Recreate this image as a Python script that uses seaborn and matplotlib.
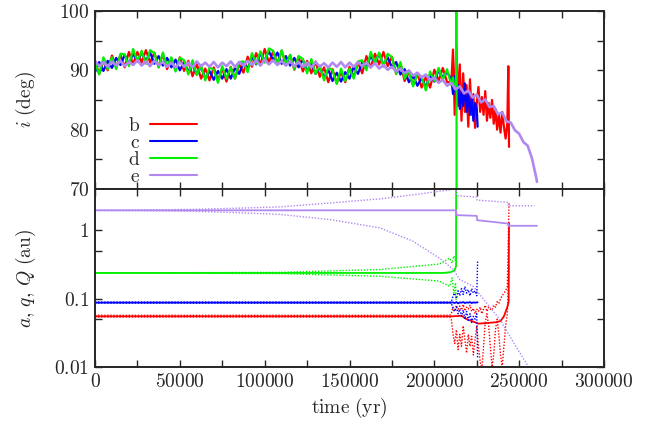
import numpy as np
import pandas as pd
import matplotlib
matplotlib.use('Agg')
import matplotlib.pyplot as plt
import seaborn as sns
from matplotlib.ticker import FixedLocator, FuncFormatter, NullFormatter

# ---------------- inclination panel ----------------
t_early = np.arange(0, 210000, 2500)          # 0 ... 207500 yr

inc_b = [91.5, 89.4, 91.6, 90.0, 92.5, 90.5, 92.6, 90.5, 93.1, 91.0,
         93.1, 91.3, 93.4, 91.3, 93.0, 90.5, 92.7, 90.2, 92.0, 90.0,
         92.2, 89.9, 91.6, 89.0, 91.1, 88.6, 90.3, 88.3, 90.5, 88.3,
         90.3, 88.1, 90.6, 88.6, 91.0, 89.6, 92.3, 90.6, 92.9, 90.9,
         93.6, 91.3, 93.2, 91.2, 93.3, 90.9, 92.6, 90.1, 92.3, 89.8,
         91.6, 89.5, 91.5, 88.9, 90.5, 88.0, 90.2, 87.8, 89.7, 88.0,
         90.6, 88.9, 91.3, 89.5, 92.4, 90.5, 92.8, 91.0, 93.1, 90.7,
         92.3, 89.4, 91.1, 88.2, 89.7, 87.5, 89.5, 87.1, 88.9, 87.1,
         90.1, 88.2, 90.4, 88.0]
inc_c = [89.7, 91.4, 89.9, 91.6, 90.4, 92.1, 90.9, 92.6, 91.1, 92.8,
         91.5, 93.0, 91.6, 93.0, 91.1, 92.4, 90.8, 92.1, 90.5, 91.8,
         90.0, 91.4, 89.8, 91.0, 89.3, 90.6, 88.6, 89.9, 88.4, 89.9,
         88.6, 90.2, 88.6, 90.4, 89.4, 91.3, 90.3, 92.3, 91.0, 92.8,
         91.7, 93.2, 91.7, 93.0, 91.1, 92.4, 90.8, 92.1, 90.5, 91.8,
         89.9, 91.1, 89.4, 90.5, 88.8, 90.1, 88.2, 89.6, 88.1, 89.7,
         88.6, 90.6, 89.4, 91.4, 90.5, 92.4, 91.3, 92.8, 90.9, 92.2,
         90.5, 91.4, 89.3, 90.2, 88.0, 89.1, 87.4, 88.7, 87.2, 89.2,
         88.1, 90.0, 88.8, 89.7]
inc_d = [91.3, 89.3, 92.2, 90.2, 92.2, 90.2, 92.8, 92.7, 90.7, 93.6,
         91.5, 93.3, 91.1, 93.4, 92.9, 90.5, 93.0, 90.6, 92.2, 89.8,
         92.1, 91.7, 89.3, 91.7, 89.2, 90.8, 88.3, 90.5, 90.1, 87.9,
         90.7, 88.6, 90.5, 88.6, 91.4, 91.5, 89.7, 92.9, 91.1, 93.2,
         91.3, 93.7, 93.3, 90.9, 93.4, 91.0, 92.6, 90.2, 92.4, 91.9,
         89.5, 91.9, 89.4, 90.8, 88.3, 90.5, 90.0, 87.7, 90.3, 88.2,
         90.3, 88.6, 91.5, 91.7, 90.0, 93.1, 91.2, 93.0, 90.6, 92.8,
         92.2, 89.4, 91.4, 88.6, 89.9, 87.3, 89.4, 88.9, 86.6, 89.8,
         88.2, 90.4, 88.4, 90.2]

# chaotic phase after ~210 kyr
t_late_b = list(range(210000, 244000, 1000)) + [243600, 244000]
inc_b_late = [88.0, 93.5, 82.5, 94.3, 84.0, 91.0, 81.5, 89.5, 83.0, 87.5,
              80.5, 88.5, 82.5, 86.0, 80.3, 84.5, 87.2, 83.0, 85.5, 82.5,
              86.5, 81.5, 84.5, 82.0, 85.0, 81.0, 83.5, 80.0, 82.5, 79.5,
              83.0, 80.5, 78.5, 81.0, 90.7, 77.1]
t_late_c = list(range(210000, 226000, 1000)) + [225500]
inc_c_late = [88.5, 86.0, 89.0, 84.5, 87.5, 83.5, 86.5, 84.0, 87.8, 83.0,
              86.0, 82.5, 85.5, 81.5, 84.5, 83.5, 80.5]
t_late_d = [210000, 211000, 212000, 212800, 213000, 213200]
inc_d_late = [87.5, 88.8, 86.8, 87.5, 250.0, -100.0]

t_e = list(range(0, 262500, 2500)) + [260500]
inc_e = [91.6, 90.7, 91.4, 90.6, 91.5, 90.8, 91.6, 90.7, 91.4, 90.9,
         91.7, 90.8, 91.5, 90.7, 91.6, 90.9, 91.4, 90.6, 91.3, 90.5,
         91.4, 90.6, 91.3, 90.5, 91.5, 90.7, 91.3, 90.6, 91.4, 90.5,
         91.3, 90.7, 91.5, 90.6, 91.4, 90.8, 91.6, 90.9, 91.7, 90.8,
         91.8, 91.0, 91.7, 90.9, 91.6, 90.8, 91.5, 90.7, 91.4, 90.6,
         91.3, 90.5, 91.4, 90.6, 91.2, 90.5, 91.3, 90.6, 91.4, 90.5,
         91.3, 90.6, 91.4, 90.7, 91.3, 90.5, 91.2, 90.3, 90.9, 90.1,
         90.6, 89.8, 90.3, 89.5, 90.0, 89.1, 89.6, 88.8, 89.3, 88.3,
         88.8, 87.9, 88.4, 87.4, 87.9, 86.8, 87.3, 86.1, 86.6, 85.4,
         85.9, 84.6, 85.1, 83.8, 84.0, 82.6, 82.9, 81.4, 81.2, 79.9,
         79.3, 77.9, 77.3, 75.2, 72.0, 71.2]

# ---------------- orbit panel (a solid, q / Q dotted) ----------------
t_b_a = [0, 210000, 216000, 219000, 223000, 226000, 231000, 236000,
         239000, 241000, 243000, 243800, 244000]
a_b = [0.055, 0.055, 0.056, 0.050, 0.046, 0.043, 0.044, 0.045,
       0.047, 0.055, 0.075, 0.090, 1.27]
t_b_qQ = [0] + list(range(209000, 245000, 1000))
q_b = [0.054, 0.054,
       0.05, 0.03, 0.022, 0.035, 0.018, 0.03, 0.02, 0.04, 0.025, 0.016,
       0.03, 0.02, 0.028, 0.015, 0.025, 0.04, 0.02, 0.012, 0.009, 0.02,
       0.045, 0.06, 0.04, 0.02, 0.01, 0.015, 0.035, 0.05, 0.03, 0.015,
       0.01, 0.02, 0.04, 0.06, 0.3]
Q_b = [0.057, 0.057,
       0.06, 0.075, 0.065, 0.08, 0.07, 0.078, 0.068, 0.082, 0.066, 0.075,
       0.07, 0.08, 0.065, 0.072, 0.06, 0.07, 0.065, 0.075, 0.06, 0.07,
       0.08, 0.065, 0.075, 0.07, 0.068, 0.08, 0.075, 0.09, 0.085, 0.1,
       0.11, 0.12, 0.13, 0.15, 2.5]

t_c = [0, 210000] + list(range(211000, 226000, 1000)) + [225500]
a_c = [0.0873, 0.0873, 0.088, 0.086, 0.089, 0.085, 0.088, 0.087, 0.089,
       0.086, 0.088, 0.087, 0.089, 0.086, 0.088, 0.087, 0.088, 0.088]
q_c = [0.086, 0.086, 0.07, 0.065, 0.075, 0.06, 0.07, 0.055, 0.068, 0.05,
       0.065, 0.048, 0.06, 0.045, 0.055, 0.05, 0.06, 0.0133]
Q_c = [0.089, 0.089, 0.11, 0.12, 0.10, 0.13, 0.11, 0.14, 0.115, 0.15,
       0.12, 0.135, 0.11, 0.14, 0.12, 0.13, 0.11, 0.35]

t_d_a = [0, 205000, 207500, 210000, 212000, 212800, 213000]
a_d = [0.237, 0.237, 0.240, 0.245, 0.26, 0.30, 100.0]
t_d_qQ = [0, 109000, 168000, 203000, 209000, 210500, 211500, 212500,
          212800, 213000]
q_d = [0.237, 0.232, 0.212, 0.180, 0.151, 0.20, 0.12, 0.17, 0.094, 0.094]
Q_d = [0.237, 0.242, 0.266, 0.320, 0.390, 0.33, 0.42, 0.36, 0.50, 100.0]

t_e_a = [0, 212800, 213000, 225000, 225200, 243400, 243600, 260500]
a_e = [1.95, 1.95, 1.66, 1.62, 1.40, 1.25, 1.16, 1.16]
t_e_q = [0, 30000, 60000, 85000, 109000, 138500, 168000, 187400, 203000,
         211000, 215000, 223000, 239000, 247000, 255000]
q_e = [1.95, 1.93, 1.88, 1.80, 1.70, 1.43, 1.08, 0.69, 0.39,
       0.27, 0.19, 0.15, 0.048, 0.022, 0.0105]
t_e_Q = [0, 30000, 60000, 85000, 109000, 138500, 168000, 190000, 212800,
         213000, 225000, 225200, 243400, 243600, 259000]
Q_e = [1.95, 1.97, 2.02, 2.10, 2.19, 2.50, 2.87, 3.35, 4.0,
       3.2, 3.05, 2.75, 2.55, 2.27, 2.27]

planets = ['b', 'c', 'd', 'e']
colors = {'b': '#ff0000', 'c': '#0000ff', 'd': '#00f000', 'e': '#b088f0'}

sns.set_style('ticks')
plt.rcParams['mathtext.fontset'] = 'cm'
plt.rcParams['font.family'] = ['DejaVu Serif']
plt.rcParams['axes.linewidth'] = 1.4

fig = plt.figure(figsize=(6.61, 4.23), dpi=100)
ax1 = fig.add_axes([0.1437, 0.5532, 0.7701, 0.4208])
ax2 = fig.add_axes([0.1437, 0.1324, 0.7701, 0.4208])


def line(ax, x, y, c, lw=1.3, ls='-', label=None):
    sns.lineplot(x=x, y=y, ax=ax, color=c, lw=lw, linestyle=ls,
                 estimator=None, sort=False, label=label, legend=False)


# top panel
early = {'b': inc_b, 'c': inc_c, 'd': inc_d}
late = {'b': (t_late_b, inc_b_late), 'c': (t_late_c, inc_c_late),
        'd': (t_late_d, inc_d_late)}
for p in ['b', 'c', 'd']:
    tt = list(t_early) + late[p][0]
    vv = early[p] + late[p][1]
    line(ax1, tt, vv, colors[p], lw=1.6, label=r'$\mathrm{%s}$' % p)
line(ax1, t_e, inc_e, colors['e'], lw=1.9, label=r'$\mathrm{e}$')

# bottom panel
dots = (0, (1.0, 1.2))
orbit = {
    'b': ((t_b_a, a_b), (t_b_qQ, q_b), (t_b_qQ, Q_b)),
    'c': ((t_c, a_c), (t_c, q_c), (t_c, Q_c)),
    'd': ((t_d_a, a_d), (t_d_qQ, q_d), (t_d_qQ, Q_d)),
    'e': ((t_e_a, a_e), (t_e_q, q_e), (t_e_Q, Q_e)),
}
for p in planets:
    (ta, va), (tq, vq), (tQ, vQ) = orbit[p]
    line(ax2, tq, vq, colors[p], lw=1.0, ls=dots)
    line(ax2, tQ, vQ, colors[p], lw=1.0, ls=dots)
    line(ax2, ta, va, colors[p], lw=1.3)

ax2.set_yscale('log')
ax1.set_xlim(0, 300000)
ax2.set_xlim(0, 300000)
ax1.set_ylim(70, 100)
ax2.set_ylim(0.01, 4.0)

mfmt = FuncFormatter(lambda v, pos: r'$%d$' % v)
for ax in (ax1, ax2):
    ax.xaxis.set_major_locator(FixedLocator(np.arange(0, 300001, 50000)))
    ax.xaxis.set_minor_locator(FixedLocator(np.arange(25000, 300000, 50000)))
    ax.tick_params(which='both', direction='in', top=True, right=True,
                   length=5, width=1.0, labelsize=14, pad=4)
    ax.set_xlabel('')
    ax.set_ylabel('')

ax1.xaxis.set_major_formatter(NullFormatter())
ax2.xaxis.set_major_formatter(mfmt)
ax1.yaxis.set_major_locator(FixedLocator([70, 80, 90, 100]))
ax1.yaxis.set_minor_locator(FixedLocator([75, 85, 95]))
ax1.yaxis.set_major_formatter(mfmt)
ax2.yaxis.set_major_locator(FixedLocator([0.01, 0.1, 1]))
ax2.yaxis.set_minor_locator(FixedLocator([0.05, 0.5]))
ax2.yaxis.set_minor_formatter(NullFormatter())
ax2.yaxis.set_major_formatter(FuncFormatter(
    lambda v, pos: {0.01: r'$0.01$', 0.1: r'$0.1$', 1: r'$1$'}.get(round(v, 2), '')))

ax1.set_ylabel(r'$i\ \mathrm{(deg)}$', fontsize=14)
ax2.set_ylabel(r'$a,\, q,\, Q\ \mathrm{(au)}$', fontsize=14)
ax2.set_xlabel(r'$\mathrm{time\ (yr)}$', fontsize=14, labelpad=4)
ax1.yaxis.set_label_coords(-0.112, 0.5)
ax2.yaxis.set_label_coords(-0.112, 0.5)

leg = ax1.legend(loc='upper left', bbox_to_anchor=(0.05, 0.45), frameon=False,
                 markerfirst=False, fontsize=14, handlelength=2.4,
                 handletextpad=0.5, labelspacing=-0.05, borderaxespad=0)
for h in leg.get_lines():
    h.set_linewidth(1.5)

fig.savefig('out.png', dpi=100)
